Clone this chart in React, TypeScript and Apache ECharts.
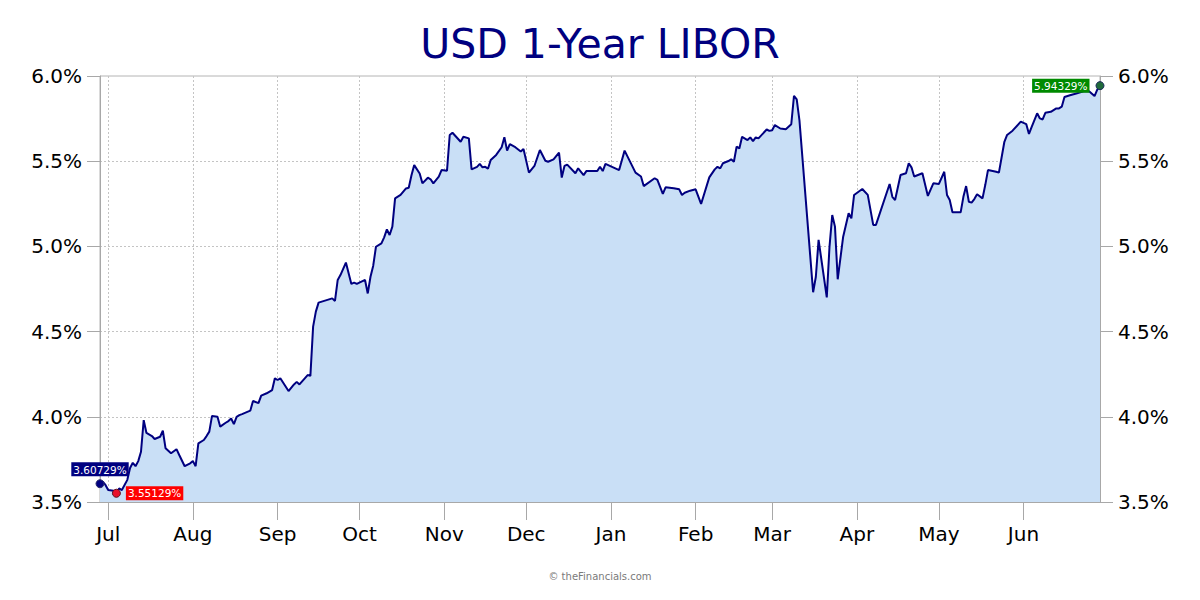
import React, { useEffect, useRef } from "react";
import * as echarts from "echarts";

// ---- data ----
const START_DATE = "2022-06-28"; // first calendar day of the x range
const DAY_COUNT = 367; // calendar days shown (to 2023-06-29)
const MONTH_NAMES = ["Jan", "Feb", "Mar", "Apr", "May", "Jun", "Jul", "Aug", "Sep", "Oct", "Nov", "Dec"];
const Y_MIN = 3.5;
const Y_MAX = 6.0;
const Y_STEP = 0.5;

// days after START_DATE of each observation
const dayOffsets = [
  0, 1, 2, 3, 5, 6, 7, 8, 10, 11, 12, 13, 14, 15, 16, 17, 19, 20, 22, 23, 24, 26, 28, 29, 31, 33, 34, 35, 36, 38,
  39, 40, 41, 43, 44, 46, 47, 48, 49, 50, 51, 52, 55, 56, 58, 59, 61, 63, 64, 65, 66, 69, 71, 72, 73, 76, 77, 78, 79, 80,
  85, 86, 87, 88, 90, 92, 93, 94, 97, 98, 99, 100, 101, 103, 104, 105, 106, 107, 108, 110, 111, 112, 113, 114, 115, 117, 118, 120, 121, 122,
  124, 125, 127, 128, 129, 132, 133, 135, 136, 138, 139, 140, 141, 142, 143, 145, 147, 148, 149, 150, 152, 154, 155, 157, 159, 161, 163, 164, 166, 168,
  169, 170, 171, 174, 175, 177, 178, 182, 183, 184, 185, 190, 192, 196, 198, 199, 203, 204, 206, 207, 210, 212, 213, 214, 216, 218, 220, 223, 225, 226,
  227, 228, 230, 231, 232, 233, 234, 235, 237, 238, 239, 240, 241, 244, 245, 246, 247, 249, 251, 253, 254, 255, 256, 261, 262, 263, 266, 267, 268, 269,
  270, 272, 274, 275, 276, 279, 281, 283, 284, 289, 290, 291, 293, 295, 296, 297, 298, 301, 303, 305, 307, 309, 310, 311, 312, 315, 316, 317, 318, 319,
  320, 321, 323, 324, 325, 328, 329, 330, 331, 332, 334, 337, 339, 340, 341, 343, 344, 345, 346, 348, 350, 351, 352, 353, 355, 357, 360, 362, 364, 365,
  366,
];

// USD 1-year LIBOR, percent
const rates = [
  3.60729, 3.62, 3.6, 3.57, 3.566, 3.55129, 3.58, 3.57, 3.63, 3.7, 3.73, 3.71, 3.74, 3.795, 3.98, 3.905, 3.887, 3.87, 3.883, 3.918, 3.815, 3.786, 3.81, 3.776, 3.71, 3.727, 3.74, 3.71, 3.844, 3.864,
  3.887, 3.913, 4.005, 4.0, 3.942, 3.965, 3.975, 3.99, 3.957, 4.0, 4.01, 4.016, 4.036, 4.093, 4.08, 4.124, 4.138, 4.157, 4.226, 4.216, 4.226, 4.151, 4.19, 4.205, 4.19, 4.245, 4.24, 4.529, 4.617, 4.67,
  4.695, 4.68, 4.803, 4.832, 4.905, 4.78, 4.787, 4.78, 4.803, 4.724, 4.822, 4.887, 4.998, 5.018, 5.053, 5.1, 5.067, 5.116, 5.282, 5.302, 5.321, 5.34, 5.344, 5.418, 5.477, 5.428, 5.37, 5.403, 5.394, 5.37,
  5.41, 5.448, 5.444, 5.654, 5.667, 5.614, 5.643, 5.634, 5.452, 5.467, 5.484, 5.464, 5.467, 5.456, 5.507, 5.537, 5.582, 5.641, 5.562, 5.6, 5.582, 5.557, 5.572, 5.433, 5.472, 5.566, 5.503, 5.497, 5.511, 5.551,
  5.404, 5.472, 5.48, 5.429, 5.458, 5.418, 5.442, 5.442, 5.467, 5.442, 5.484, 5.448, 5.562, 5.433, 5.41, 5.354, 5.4, 5.39, 5.308, 5.347, 5.341, 5.335, 5.302, 5.315, 5.327, 5.335, 5.249, 5.405, 5.452, 5.467,
  5.458, 5.488, 5.501, 5.511, 5.497, 5.585, 5.575, 5.643, 5.624, 5.64, 5.618, 5.64, 5.634, 5.686, 5.678, 5.682, 5.712, 5.692, 5.688, 5.717, 5.883, 5.863, 5.74, 4.731, 4.822, 5.038, 4.701, 4.999, 5.184, 5.116,
  4.807, 5.057, 5.194, 5.165, 5.302, 5.337, 5.302, 5.126, 5.126, 5.366, 5.291, 5.272, 5.419, 5.429, 5.488, 5.464, 5.41, 5.429, 5.296, 5.37, 5.366, 5.438, 5.302, 5.272, 5.2, 5.2, 5.291, 5.354, 5.262, 5.257,
  5.278, 5.306, 5.282, 5.36, 5.448, 5.438, 5.433, 5.523, 5.614, 5.654, 5.679, 5.732, 5.718, 5.66, 5.702, 5.781, 5.751, 5.745, 5.784, 5.79, 5.81, 5.81, 5.82, 5.877, 5.887, 5.896, 5.91, 5.91, 5.882, 5.92,
  5.94329,
];

const FONT = "'DejaVu Sans', Verdana, sans-serif";
const NAVY = "#000080";

function buildCategories(): string[] {
  const [y, m, d] = START_DATE.split("-").map(Number);
  const out: string[] = [];
  for (let i = 0; i < DAY_COUNT; i++) {
    const dt = new Date(Date.UTC(y, m - 1, d + i));
    out.push(dt.toISOString().slice(0, 10));
  }
  return out;
}

export default function App() {
  const ref = useRef<HTMLDivElement>(null);

  useEffect(() => {
    document.body.style.margin = "0";
    if (!ref.current) return;
    const chart = echarts.init(ref.current, null, { renderer: "svg" });

    const categories = buildCategories();
    const lineData: (number | null)[] = categories.map(() => null);
    dayOffsets.forEach((off, i) => {
      lineData[off] = rates[i];
    });

    const firstIdx = 0;
    const lastIdx = rates.length - 1;
    let minIdx = 0;
    rates.forEach((v, i) => {
      if (v < rates[minIdx]) minIdx = i;
    });

    const isMonthStart = (_i: number, v: string) => v.slice(8, 10) === "01";
    const pct = (v: number) => v.toFixed(5) + "%";
    const boxLabel = (bg: string, position: any, distance: number) => ({
      show: true,
      position,
      distance,
      formatter: (p: any) => pct(p.value[1]),
      backgroundColor: bg,
      color: "#fff",
      opacity: 1,
      fontSize: 10.5,
      fontFamily: FONT,
      padding: [2, 2, 1, 2],
      borderRadius: 0,
    });

    const axisGrey = "#a8a8a8";
    const gridLine = { lineStyle: { color: "#c4c4c4", type: [2, 2] as any, width: 1 } };

    const yAxisBase = {
      type: "value" as const,
      min: Y_MIN,
      max: Y_MAX,
      interval: Y_STEP,
      axisLine: { show: true, lineStyle: { color: axisGrey } },
      axisTick: { show: true, length: 13, lineStyle: { color: axisGrey } },
      axisLabel: {
        formatter: (v: number) => v.toFixed(1) + "%",
        fontSize: 20,
        color: "#000",
        fontFamily: FONT,
        margin: 18,
      },
    };

    chart.setOption({
      animation: false,
      backgroundColor: "#ffffff",
      textStyle: { fontFamily: FONT },
      title: [
        {
          text: "USD 1-Year LIBOR",
          left: "center",
          top: 18,
          textStyle: { fontSize: 41, fontWeight: "normal", color: NAVY, fontFamily: FONT },
        },
        {
          text: "© theFinancials.com",
          left: "center",
          top: 566,
          textStyle: { fontSize: 10, fontWeight: "normal", color: "#7a7a7a", fontFamily: FONT },
        },
      ],
      grid: {
        left: 100,
        right: 100,
        top: 76,
        bottom: 98,
        show: true,
        borderColor: "#b4b4b4",
        borderWidth: 1,
      },
      xAxis: {
        type: "category",
        data: categories,
        boundaryGap: false,
        axisLine: { show: true, lineStyle: { color: axisGrey } },
        axisTick: { show: true, length: 18, interval: isMonthStart, lineStyle: { color: axisGrey } },
        axisLabel: {
          interval: isMonthStart,
          formatter: (v: string) => MONTH_NAMES[Number(v.slice(5, 7)) - 1],
          fontSize: 20,
          color: "#000",
          fontFamily: FONT,
          margin: 22,
        },
        splitLine: { show: true, interval: isMonthStart, ...gridLine },
      },
      yAxis: [
        {
          ...yAxisBase,
          position: "left",
          splitLine: { show: true, showMinLine: false, showMaxLine: false, ...gridLine },
        },
        { ...yAxisBase, position: "right", splitLine: { show: false } },
      ],
      series: [
        {
          type: "line",
          data: lineData,
          connectNulls: true,
          showSymbol: false,
          symbol: "none",
          lineStyle: { color: NAVY, width: 2 },
          areaStyle: { color: "#c9dff6", opacity: 1 },
          z: 2,
        },
        {
          type: "scatter",
          symbolSize: 8,
          z: 5,
          itemStyle: { opacity: 1 },
          data: [
            {
              value: [categories[dayOffsets[firstIdx]], rates[firstIdx]],
              itemStyle: { color: NAVY, borderColor: "#2a2a6a", borderWidth: 1, opacity: 1 },
              label: boxLabel(NAVY, "top", 3),
            },
            {
              value: [categories[dayOffsets[minIdx]], rates[minIdx]],
              itemStyle: { color: "#e8102a", borderColor: "#5a1020", borderWidth: 1, opacity: 1 },
              label: boxLabel("#ff0000", "right", 5),
            },
            {
              value: [categories[dayOffsets[lastIdx]], rates[lastIdx]],
              itemStyle: { color: "#1f6a3a", borderColor: "#1a2a5a", borderWidth: 1, opacity: 1 },
              label: boxLabel("#008a00", "left", 6),
            },
          ],
        },
      ],
    });

    return () => chart.dispose();
  }, []);

  return <div ref={ref} style={{ width: 1200, height: 600 }} />;
}
